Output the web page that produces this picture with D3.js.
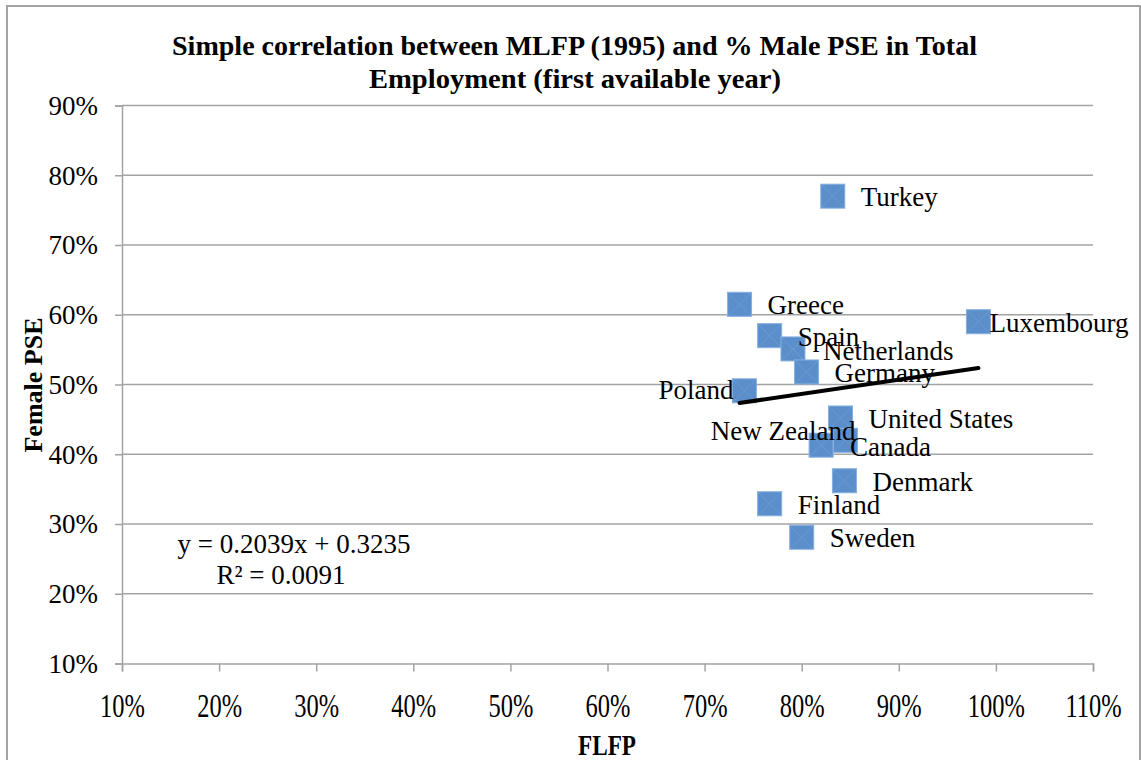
<!DOCTYPE html>
<html lang="en">
<head>
<meta charset="utf-8">
<title>MLFP vs Male PSE</title>
<script src="https://d3js.org/d3.v7.min.js"></script>
<style>
  body { margin: 0; background: #fff; }
  text { font-family: "Liberation Serif", "Times New Roman", serif; fill: #000; }
</style>
</head>
<body>
<script>
// data (percent)
var countries = ["Turkey", "Greece", "Spain", "Netherlands", "Germany", "Poland", "Luxembourg",
                 "United States", "Canada", "New Zealand", "Denmark", "Finland", "Sweden"];
var flfp = [83.2, 73.6, 76.7, 79.1, 80.5, 74.1, 98.2, 84.0, 82.0, 84.5, 84.4, 76.7, 80.0];
var femalePSE = [77.0, 61.5, 57.0, 55.1, 51.8, 49.1, 59.0, 45.2, 41.3, 42.0, 36.2, 32.9, 28.1];
var xTicks = [10, 20, 30, 40, 50, 60, 70, 80, 90, 100, 110];
var yTicks = [10, 20, 30, 40, 50, 60, 70, 80, 90];
var slope = 0.2039, intercept = 0.3235;
var eqLines = ["y = 0.2039x + 0.3235", "R\u00b2 = 0.0091"];
var titleLines = ["Simple correlation between MLFP (1995) and % Male PSE in Total",
                  "Employment (first available year)"];

// label placement tweaks (dx, dy, anchor) for the crowded ones
var labelPos = {
  "Luxembourg": [11, 10, "start"],
  "Poland": [-11, 8, "end"],
  "New Zealand": [10, 0, "end"],
  "Netherlands": [30, 11, "start"],
  "Canada": [29, 11, "start"]
};

var w = 1141, h = 760;
var pL = 122, pR = 1093, pT = 105.5, pB = 663.5;
var grey = "#a3a3a3";

var svg = d3.select("body").append("svg").attr("width", w).attr("height", h);

// chart frame
svg.append("rect").attr("x", 7).attr("y", 6).attr("width", 1133).attr("height", 800)
  .attr("fill", "none").attr("stroke", grey).attr("stroke-width", 2);

var x = d3.scaleLinear().domain([10, 110]).range([pL, pR]);
var y = d3.scaleLinear().domain([10, 90]).range([pB, pT]);

// gridlines
svg.append("g").selectAll("line").data(yTicks.slice(1)).enter().append("line")
  .attr("x1", pL).attr("x2", pR)
  .attr("y1", function(d) { return y(d); }).attr("y2", function(d) { return y(d); })
  .attr("stroke", grey).attr("stroke-width", 1.5);

// y axis
var yAxis = d3.axisLeft(y).tickValues(yTicks).tickSize(7).tickFormat(function(d) { return d + "%"; });
var gy = svg.append("g").attr("transform", "translate(" + pL + ",0)").call(yAxis);
gy.select(".domain").attr("stroke", grey).attr("stroke-width", 1.5);
gy.selectAll(".tick line").attr("stroke", grey).attr("stroke-width", 1.5);
gy.selectAll(".tick text").attr("x", -24).attr("dy", "0.33em")
  .style("font-size", "27px").style("font-family", "Liberation Serif");

// x axis
var xAxis = d3.axisBottom(x).tickValues(xTicks).tickSize(8).tickFormat(function(d) { return d + "%"; });
var gx = svg.append("g").attr("transform", "translate(0," + pB + ")").call(xAxis);
gx.select(".domain").attr("stroke", grey).attr("stroke-width", 1.5);
gx.selectAll(".tick line").attr("stroke", grey).attr("stroke-width", 1.5);
gx.selectAll(".tick text").attr("y", 0).attr("dy", 0)
  .attr("transform", "translate(0,53) scale(0.72,1)")
  .style("font-size", "34px").style("font-family", "Liberation Serif");

// markers
var pts = countries.map(function(c, i) { return { name: c, x: flfp[i], y: femalePSE[i] }; });
var s = 12;
var mk = svg.append("g").selectAll("g").data(pts).enter().append("g")
  .attr("transform", function(d) { return "translate(" + x(d.x) + "," + y(d.y) + ")"; });
mk.append("rect").attr("x", -s).attr("y", -s).attr("width", 2 * s).attr("height", 2 * s)
  .attr("fill", "#5a8fcc").attr("stroke", "#86b0df").attr("stroke-width", 1);
mk.append("path").attr("d", "M" + (-s) + "," + (-s) + "L" + s + "," + s + "M" + s + "," + (-s) + "L" + (-s) + "," + s)
  .attr("stroke", "#7aa3d6").attr("stroke-width", 1).attr("opacity", 0.6);

// trend line over the observed range
var xr = d3.extent(flfp);
svg.append("line")
  .attr("x1", x(xr[0])).attr("y1", y((slope * xr[0] / 100 + intercept) * 100))
  .attr("x2", x(xr[1])).attr("y2", y((slope * xr[1] / 100 + intercept) * 100))
  .attr("stroke", "#000").attr("stroke-width", 4).attr("stroke-linecap", "round");

// data labels
svg.append("g").selectAll("text").data(pts).enter().append("text")
  .attr("x", function(d) { var p = labelPos[d.name]; return x(d.x) + (p ? p[0] : 28); })
  .attr("y", function(d) { var p = labelPos[d.name]; return y(d.y) + (p ? p[1] : 10); })
  .attr("text-anchor", function(d) { var p = labelPos[d.name]; return p ? p[2] : "start"; })
  .style("font-size", "27px")
  .text(function(d) { return d.name; });

// regression equation
svg.append("text").attr("x", 294).attr("y", 553).attr("text-anchor", "middle")
  .style("font-size", "27px").text(eqLines[0]);
svg.append("text").attr("x", 281).attr("y", 584).attr("text-anchor", "middle")
  .style("font-size", "27px").text(eqLines[1]);

// title
svg.append("text").attr("x", 172).attr("y", 55).attr("textLength", 805).attr("lengthAdjust", "spacingAndGlyphs")
  .style("font-size", "28px").style("font-weight", "bold").text(titleLines[0]);
svg.append("text").attr("x", 369).attr("y", 88).attr("textLength", 412).attr("lengthAdjust", "spacingAndGlyphs")
  .style("font-size", "28px").style("font-weight", "bold").text(titleLines[1]);

// axis titles
svg.append("text").attr("x", 578).attr("y", 755).attr("textLength", 58).attr("lengthAdjust", "spacingAndGlyphs")
  .style("font-size", "29px").style("font-weight", "bold").text("FLFP");
svg.append("text").attr("transform", "translate(42,385) rotate(-90)").attr("text-anchor", "middle")
  .style("font-size", "26px").style("font-weight", "bold").text("Female PSE");
</script>
</body>
</html>
